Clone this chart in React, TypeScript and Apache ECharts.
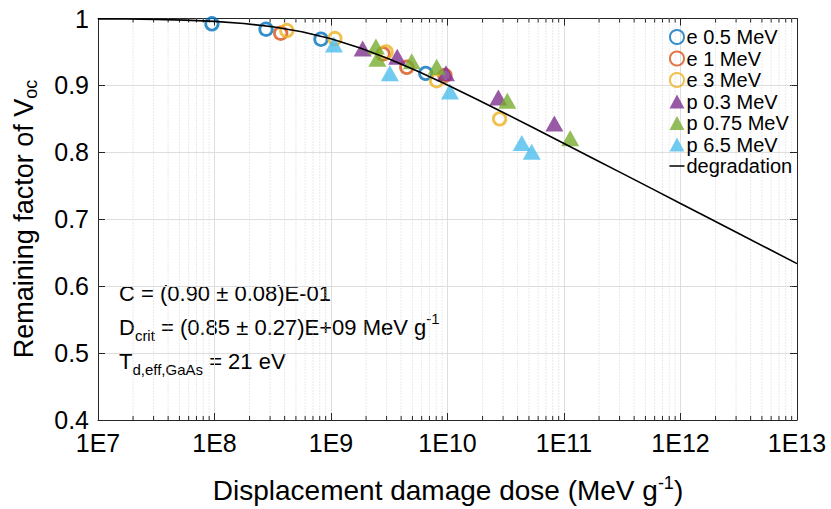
import React, { useEffect, useRef } from "react";
import * as echarts from "echarts";

// ---- data ----
const e05MeV = [[9.5e7, 0.992], [2.77e8, 0.984], [8.2e8, 0.969], [6.5e9, 0.918]];
const e1MeV = [[3.7e8, 0.978], [2.8e9, 0.947], [4.47e9, 0.927], [9.5e9, 0.915]];
const e3MeV = [[4.17e8, 0.982], [1.08e9, 0.970], [2.97e9, 0.950], [8.07e9, 0.907], [2.8e10, 0.850]];
const p03MeV = [[1.87e9, 0.955], [3.7e9, 0.943], [9.7e9, 0.918], [2.73e10, 0.882], [8.26e10, 0.843]];
const p075MeV = [[2.43e9, 0.958], [2.5e9, 0.940], [4.93e9, 0.936], [8.07e9, 0.928], [3.26e10, 0.877], [1.13e11, 0.821]];
const p65MeV = [[1.06e9, 0.961], [3.2e9, 0.918], [1.05e10, 0.891], [4.34e10, 0.814], [5.28e10, 0.801]];
const degradationX = [
  1e7, 1.78e7, 3.16e7, 5.62e7, 1e8, 1.78e8, 3.16e8, 5.62e8, 1e9, 1.78e9, 3.16e9, 5.62e9,
  1e10, 1.78e10, 3.16e10, 5.62e10, 1e11, 1.78e11, 3.16e11, 5.62e11, 1e12, 1.78e12, 3.16e12, 5.62e12, 1e13,
];
const degradationY = [
  0.9995, 0.9992, 0.9986, 0.9975, 0.9957, 0.9926, 0.9876, 0.9802, 0.9696, 0.9559, 0.9394, 0.9207,
  0.9005, 0.8793, 0.8576, 0.8356, 0.8133, 0.7909, 0.7686, 0.7461, 0.7236, 0.7011, 0.6787, 0.6562, 0.6337,
];

const xTickLabels = ["1E7", "1E8", "1E9", "1E10", "1E11", "1E12", "1E13"];
const yTickLabels = ["0.4", "0.5", "0.6", "0.7", "0.8", "0.9", "1"];
const decadeStarts = [1e7, 1e8, 1e9, 1e10, 1e11, 1e12];
const minorMultipliers = [2, 3, 4, 5, 6, 7, 8, 9];

const FONT = "Liberation Sans, Arial, sans-serif";
const AXIS = "#262626";

export default function App() {
  const ref = useRef<HTMLDivElement>(null);
  useEffect(() => {
    if (!ref.current) return;
    const chart = echarts.init(ref.current, undefined, { renderer: "svg" });
    const minorX = decadeStarts.flatMap((d) => minorMultipliers.map((m) => [m * d, 0.5]));
    const xLabel = (v: number) => {
      const i = Math.round(Math.log10(v)) - 7;
      return xTickLabels[i] ?? "";
    };
    const yLabel = (v: number) => {
      const i = Math.round((v - 0.4) * 10);
      return yTickLabels[i] ?? "";
    };
    const circle = (name: string, data: number[][], color: string) => ({
      name,
      type: "scatter",
      data,
      symbol: "circle",
      symbolSize: 12.5,
      itemStyle: { color: "rgba(0,0,0,0)", borderColor: color, borderWidth: 2.8 },
      z: 3,
    });
    const tri = (name: string, data: number[][], color: string) => ({
      name,
      type: "scatter",
      data,
      symbol: "triangle",
      symbolSize: [18, 16],
      itemStyle: { color },
      z: 3,
    });
    const baseX = {
      type: "log",
      logBase: 10,
      min: 1e7,
      max: 1e13,
      splitNumber: 6,
      axisLine: { show: true, lineStyle: { color: AXIS, width: 1 } },
      axisTick: { show: true, inside: true, length: 7, lineStyle: { color: AXIS } },
      minorTick: { show: false },
    };
    const baseY = {
      type: "value",
      min: 0.4,
      max: 1,
      interval: 0.1,
      axisLine: { show: true, lineStyle: { color: AXIS, width: 1 } },
      axisTick: { show: true, inside: true, length: 7, lineStyle: { color: AXIS } },
    };
    chart.setOption({
      animation: false,
      backgroundColor: "#fff",
      grid: { left: 98, right: 34, top: 18.5, bottom: 89, containLabel: false },
      xAxis: [
        {
          ...baseX,
          position: "bottom",
          axisLabel: { formatter: xLabel, fontFamily: FONT, fontSize: 25, color: "#000", margin: 10 },
          splitLine: { show: true, lineStyle: { color: "#dedede", width: 1 } },
        },
        {
          ...baseX,
          position: "top",
          axisLabel: { show: false },
          splitLine: { show: false },
        },
      ],
      yAxis: [
        {
          ...baseY,
          position: "left",
          axisLabel: { formatter: yLabel, fontFamily: FONT, fontSize: 25, color: "#000", margin: 9 },
          splitLine: { show: true, lineStyle: { color: "#dedede", width: 1 } },
        },
        {
          ...baseY,
          position: "right",
          axisLabel: { show: false },
          splitLine: { show: false },
        },
      ],
      legend: {
        orient: "vertical",
        left: 669,
        top: 27,
        itemWidth: 15,
        itemHeight: 14,
        itemGap: 1.5,
        padding: 0,
        textStyle: { fontFamily: FONT, fontSize: 20, color: "#000", lineHeight: 20, padding: [0, 0, 0, -3] },
        data: [
          "e 0.5 MeV",
          "e 1 MeV",
          "e 3 MeV",
          "p 0.3 MeV",
          "p 0.75 MeV",
          "p 6.5 MeV",
          { name: "degradation", icon: "path://M0,0 L16,0 L16,1.6 L0,1.6 Z", itemStyle: { color: "#000" } },
        ],
      },
      series: [
        {
          type: "custom",
          name: "minor",
          silent: true,
          z: 1,
          data: minorX,
          renderItem: (params: any, api: any) => {
            const x = api.value(0);
            const top = api.coord([x, 1]);
            const bot = api.coord([x, 0.4]);
            const s = { stroke: AXIS, lineWidth: 1 };
            return {
              type: "group",
              children: [
                {
                  type: "line",
                  shape: { x1: top[0], y1: top[1], x2: bot[0], y2: bot[1] },
                  style: { stroke: "#d4d4d4", lineWidth: 1, lineDash: [1, 2] },
                },
                { type: "line", shape: { x1: bot[0], y1: bot[1], x2: bot[0], y2: bot[1] - 4 }, style: s },
                { type: "line", shape: { x1: top[0], y1: top[1], x2: top[0], y2: top[1] + 4 }, style: s },
              ],
            };
          },
        },
        circle("e 0.5 MeV", e05MeV, "#0072BD"),
        circle("e 1 MeV", e1MeV, "#D95319"),
        circle("e 3 MeV", e3MeV, "#EDB120"),
        tri("p 0.3 MeV", p03MeV, "#7E2F8E"),
        tri("p 0.75 MeV", p075MeV, "#77AC30"),
        tri("p 6.5 MeV", p65MeV, "#4DBEEE"),
        {
          name: "degradation",
          type: "line",
          data: degradationX.map((x, i) => [x, degradationY[i]]),
          showSymbol: false,
          symbol: "none",
          smooth: false,
          lineStyle: { color: "#000", width: 1.6 },
          itemStyle: { color: "#000" },
          z: 4,
        },
      ],
      graphic: [
        {
          type: "text",
          x: 24,
          y: 219,
          rotation: Math.PI / 2,
          style: {
            text: "{a|Remaining factor of V}{b|oc}",
            align: "center",
            verticalAlign: "middle",
            rich: {
              a: { fontFamily: FONT, fontSize: 27, fill: "#000", lineHeight: 32, verticalAlign: "middle" },
              b: { fontFamily: FONT, fontSize: 18, fill: "#000", lineHeight: 32, verticalAlign: "bottom" },
            },
          },
        },
        {
          type: "text",
          x: 448,
          y: 490,
          style: {
            text: "{a|Displacement damage dose (MeV g}{b|-1}{a|)}",
            align: "center",
            verticalAlign: "middle",
            rich: {
              a: { fontFamily: FONT, fontSize: 28, fill: "#000", lineHeight: 32, verticalAlign: "middle" },
              b: { fontFamily: FONT, fontSize: 18, fill: "#000", lineHeight: 32, verticalAlign: "top" },
            },
          },
        },
        {
          type: "text",
          x: 119,
          y: 293,
          style: {
            text: "C = (0.90 ± 0.08)E-01",
            font: `22px ${FONT}`,
            fill: "#000",
            align: "left",
            verticalAlign: "middle",
          },
        },
        {
          type: "text",
          x: 119,
          y: 327,
          style: {
            text: "{a|D}{b|crit}{a| = (0.85 ± 0.27)E+09 MeV g}{c|-1}",
            align: "left",
            verticalAlign: "middle",
            rich: {
              a: { fontFamily: FONT, fontSize: 22, fill: "#000", lineHeight: 32, verticalAlign: "middle" },
              b: { fontFamily: FONT, fontSize: 15, fill: "#000", lineHeight: 32, verticalAlign: "bottom" },
              c: { fontFamily: FONT, fontSize: 15, fill: "#000", lineHeight: 32, verticalAlign: "top" },
            },
          },
        },
        {
          type: "text",
          x: 119,
          y: 361,
          style: {
            text: "{a|T}{b|d,eff,GaAs}{a| = 21 eV}",
            align: "left",
            verticalAlign: "middle",
            rich: {
              a: { fontFamily: FONT, fontSize: 22, fill: "#000", lineHeight: 32, verticalAlign: "middle" },
              b: { fontFamily: FONT, fontSize: 15, fill: "#000", lineHeight: 32, verticalAlign: "bottom" },
            },
          },
        },
      ],
    });
    return () => chart.dispose();
  }, []);
  return <div ref={ref} style={{ width: 831, height: 509, position: "absolute", left: 0, top: 0 }} />;
}
